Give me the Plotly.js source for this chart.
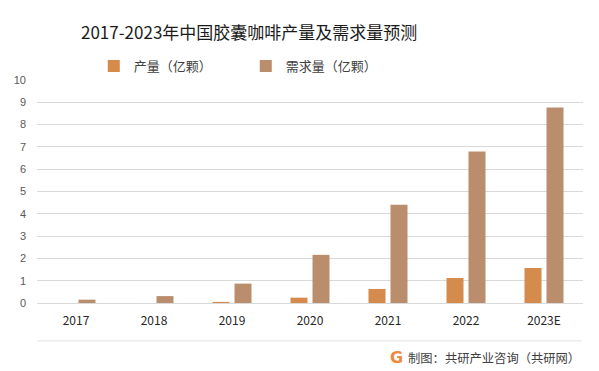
<!DOCTYPE html>
<html>
<head>
<meta charset="utf-8">
<script src="https://cdn.plot.ly/plotly-3.0.1.min.js"></script>
<style>html,body{margin:0;padding:0;background:#fff;}#chart{width:599px;height:371px;}</style>
</head>
<body>
<div id="chart"></div>
<script>
const categories = ["2017", "2018", "2019", "2020", "2021", "2022", "2023E"];
const production = [0, 0, 0.05, 0.24, 0.63, 1.12, 1.57];
const demand = [0.15, 0.31, 0.87, 2.16, 4.41, 6.79, 8.77];
const seriesNames = ["产量（亿颗）", "需求量（亿颗）"];
const yTicks = [0, 1, 2, 3, 4, 5, 6, 7, 8, 9, 10];

const cjk = '"Noto Sans CJK SC", "Noto Sans", sans-serif';
const traces = [
  {type: "bar", name: seriesNames[0], x: categories, y: production, marker: {color: "#D48B4B"}, hoverinfo: "skip"},
  {type: "bar", name: seriesNames[1], x: categories, y: demand, marker: {color: "#BA8E6C"}, hoverinfo: "skip"}
];
const layout = {
  width: 599, height: 371,
  margin: {l: 37, r: 16, t: 80, b: 68},
  paper_bgcolor: "#fff", plot_bgcolor: "#fff",
  barmode: "group", bargap: 0.436, bargroupgap: 0.227,
  showlegend: true,
  title: {text: "2017-2023年中国胶囊咖啡产量及需求量预测", x: 0.416, xanchor: "center", y: 0.91, yanchor: "middle",
          font: {family: cjk, size: 17, color: "#1a1a1a"}},
  legend: {orientation: "h", x: 0.104, xanchor: "left", y: 1.063, yanchor: "middle",
           font: {family: cjk, size: 13, color: "#404040"}, entrywidth: 107, entrywidthmode: "pixels",
           itemwidth: 30, bgcolor: "rgba(0,0,0,0)", traceorder: "normal"},
  xaxis: {type: "category", tickfont: {family: cjk, size: 12, color: "#262626"}, showgrid: false,
          showline: false, ticks: "", ticklabelstandoff: 9, fixedrange: true},
  yaxis: {range: [0, 10], tickvals: yTicks, showgrid: true, gridcolor: "#D9D9D9", gridwidth: 1,
          zeroline: true, zerolinecolor: "#D9D9D9", zerolinewidth: 1,
          tickfont: {family: "Liberation Sans, sans-serif", size: 11, color: "#595959"}, ticks: "",
          ticklabelstandoff: 10, fixedrange: true},
  shapes: [
    {type: "line", xref: "paper", yref: "paper", x0: 0, x1: 0.998, y0: -0.17, y1: -0.17,
     line: {color: "#E3E3E3", width: 1}}
  ],
  annotations: [
    {text: "<b>G</b>", xref: "paper", yref: "paper", x: 0.659, y: -0.245, xanchor: "center", yanchor: "middle",
     showarrow: false, font: {family: "DejaVu Sans, sans-serif", size: 16, color: "#F0893C"}},
    {text: "制图：共研产业咨询（共研网）", xref: "paper", yref: "paper", x: 0.998, y: -0.245, xanchor: "right", yanchor: "middle",
     showarrow: false, font: {family: cjk, size: 12.3, color: "#404040"}}
  ]
};
Plotly.newPlot("chart", traces, layout, {displayModeBar: false, staticPlot: true});
</script>
</body>
</html>
